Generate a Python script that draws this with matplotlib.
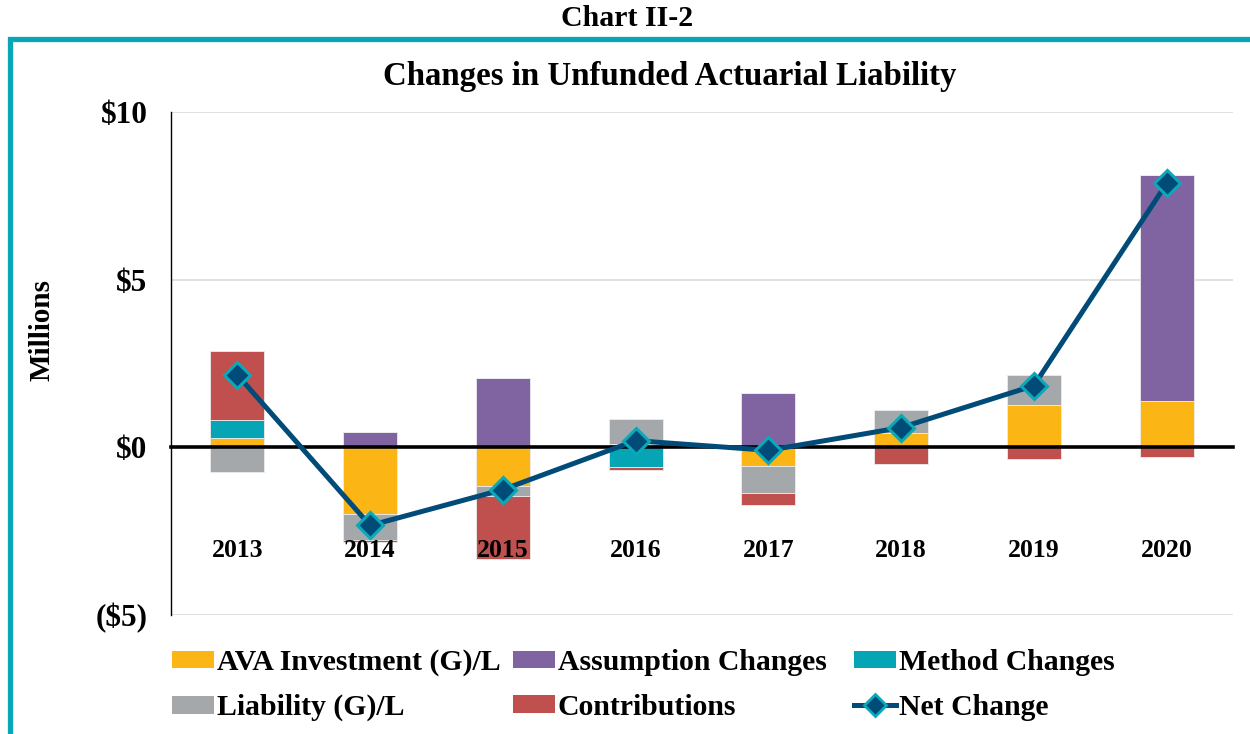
import matplotlib
matplotlib.use("Agg")
import matplotlib.pyplot as plt
from matplotlib.patches import Rectangle, Patch
from matplotlib.lines import Line2D
import numpy as np

plt.rcParams['font.family'] = ['Liberation Serif', 'DejaVu Serif']
plt.rcParams['font.weight'] = 'bold'

years = ['2013', '2014', '2015', '2016', '2017', '2018', '2019', '2020']
ava_investment = [0.29, -1.99, -1.16, 0.11, -0.56, 0.44, 1.26, 1.39]
assumption_changes = [0.0, 0.46, 2.07, 0.0, 1.63, 0.0, 0.0, 6.74]
method_changes = [0.53, 0.0, 0.0, -0.59, 0.0, 0.0, 0.0, 0.0]
liability_gl = [-0.74, -0.76, -0.30, 0.74, -0.80, 0.66, 0.89, 0.0]
contributions = [2.06, -0.06, -1.88, -0.08, -0.37, -0.51, -0.35, -0.28]
net_change = [2.16, -2.33, -1.26, 0.20, -0.09, 0.59, 1.84, 7.87]

series_names = ['AVA Investment (G)/L', 'Assumption Changes', 'Method Changes',
                'Liability (G)/L', 'Contributions']
series_values = [ava_investment, assumption_changes, method_changes, liability_gl, contributions]
series_colors = ['#FBB615', '#8064A2', '#05A5B5', '#A5A8AB', '#C0504D']
line_color = '#004B78'
marker_edge = '#0AA8B8'

yticks = [-5, 0, 5, 10]
ytick_labels = ['($5)', '$0', '$5', '$10']

W, H = 1250, 734
fig = plt.figure(figsize=(W / 100, H / 100), dpi=100)
fig.patch.set_facecolor('white')

left, right, top, bottom = 171, 1233, 112, 615
ax = fig.add_axes([left / W, 1 - bottom / H, (right - left) / W, (bottom - top) / H])

x = np.arange(len(years))
pos_bottom = np.zeros(len(years))
neg_bottom = np.zeros(len(years))
for name, vals, col in zip(series_names, series_values, series_colors):
    v = np.array(vals)
    b = np.where(v >= 0, pos_bottom, neg_bottom)
    ax.bar(x, v, width=0.405, bottom=b, color=col, edgecolor='#ECECEC', linewidth=0.6,
           zorder=2, label=name)
    pos_bottom += np.where(v >= 0, v, 0)
    neg_bottom += np.where(v < 0, v, 0)

ax.plot(x, net_change, color=line_color, linewidth=3.6, marker='D', markersize=13,
        markerfacecolor=line_color, markeredgecolor=marker_edge, markeredgewidth=2.2,
        zorder=4)

ax.set_xlim(-0.5, len(years) - 0.5)
ax.set_ylim(-5, 10)
ax.set_yticks(yticks)
ax.set_yticklabels(ytick_labels)
ax.tick_params(axis='y', length=0, pad=17, labelsize=22.5)
ax.yaxis.grid(True, color='#D9D9D9', linewidth=1.1)
ax.set_axisbelow(True)

ax.set_xticks(x)
ax.set_xticklabels(years)
ax.spines['bottom'].set_position(('data', 0))
ax.spines['bottom'].set_linewidth(2.6)
ax.spines['bottom'].set_color('black')
ax.spines['bottom'].set_zorder(3)
ax.tick_params(axis='x', length=0, pad=66, labelsize=18.5)
ax.xaxis.set_zorder(3.5)
ax.spines['top'].set_visible(False)
ax.spines['right'].set_visible(False)
ax.spines['left'].set_linewidth(1.0)
ax.spines['left'].set_color('black')

# Titles
fig.text(627 / W, 1 - 19 / H, 'Chart II-2', ha='center', va='center', fontsize=21.5, fontweight='bold')
fig.text(670 / W, 1 - 77 / H, 'Changes in Unfunded Actuarial Liability', ha='center', va='center',
         fontsize=23.7, fontweight='bold')
fig.text(42 / W, 1 - 330 / H, 'Millions', ha='center', va='center', rotation=90,
         fontsize=21, fontweight='bold')

# Border
fig.patches.append(Rectangle((9.5 / W, -0.05), (1251.5 - 9.5) / W, 1.05 - 38.5 / H,
                             transform=fig.transFigure, fill=False, edgecolor='#07A7B7',
                             linewidth=3.8, zorder=0))

# Legend: three columns placed by hand
handles = [Patch(facecolor=c, edgecolor='none') for c in series_colors]
net_handle = Line2D([0], [0], color=line_color, linewidth=3.6, marker='D', markersize=11,
                    markerfacecolor=line_color, markeredgecolor=marker_edge, markeredgewidth=2)
columns = [
    ([handles[0], handles[3]], [series_names[0], series_names[3]], 172),
    ([handles[1], handles[4]], [series_names[1], series_names[4]], 513),
    ([handles[2], net_handle], [series_names[2], 'Net Change'], 854),
]
for hs, labs, xpx in columns:
    leg = fig.legend(hs, labs, loc='upper left', bbox_to_anchor=(xpx / W, 1 - 649 / H),
                     frameon=False, fontsize=21.4, handlelength=1.4, handleheight=0.55,
                     handletextpad=0.1, labelspacing=0.6, borderpad=0, borderaxespad=0)
    for t in leg.get_texts():
        t.set_fontweight('bold')

fig.savefig('out.png', dpi=100, facecolor='white')
